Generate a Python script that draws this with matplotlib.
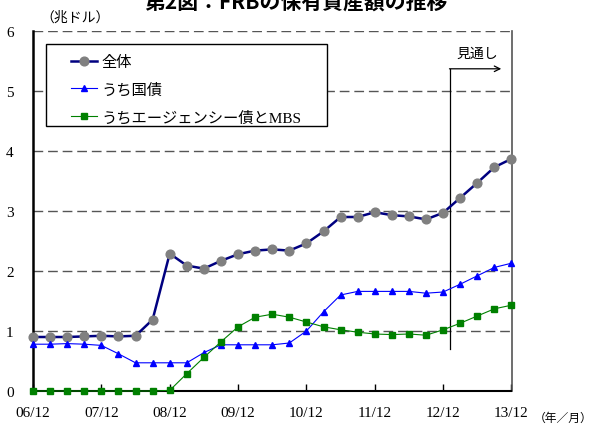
import matplotlib
matplotlib.use("Agg")
import matplotlib.pyplot as plt
from matplotlib.patches import Rectangle

# quarterly, 2006/12 .. 2013/12 (13/03 onward = projection)
quarters = ["06/12", "07/03", "07/06", "07/09", "07/12", "08/03", "08/06", "08/09",
            "08/12", "09/03", "09/06", "09/09", "09/12", "10/03", "10/06", "10/09",
            "10/12", "11/03", "11/06", "11/09", "11/12", "12/03", "12/06", "12/09",
            "12/12", "13/03", "13/06", "13/09", "13/12"]
total = [0.90, 0.90, 0.90, 0.91, 0.92, 0.91, 0.92, 1.19, 2.29, 2.09, 2.04, 2.17,
         2.28, 2.34, 2.36, 2.34, 2.46, 2.66, 2.90, 2.90, 2.98, 2.93, 2.91, 2.86,
         2.97, 3.22, 3.47, 3.73, 3.87]
treasury = [0.78, 0.78, 0.79, 0.78, 0.76, 0.62, 0.47, 0.47, 0.47, 0.47, 0.64, 0.77,
            0.77, 0.77, 0.77, 0.80, 1.00, 1.32, 1.60, 1.66, 1.66, 1.66, 1.66, 1.63,
            1.65, 1.78, 1.92, 2.06, 2.13]
agency_mbs = [0.0, 0.0, 0.0, 0.0, 0.0, 0.0, 0.0, 0.0, 0.01, 0.29, 0.56, 0.82,
              1.07, 1.23, 1.28, 1.23, 1.15, 1.07, 1.02, 0.98, 0.95, 0.94, 0.95, 0.93,
              1.02, 1.13, 1.25, 1.37, 1.43]
labels = ["全体", "うち国債", "うちエージェンシー債とMBS"]
yticks = [0, 1, 2, 3, 4, 5, 6]

serif = ["Liberation Serif", "Noto Sans CJK JP"]
jp = ["Noto Sans CJK JP", "DejaVu Sans"]

fig = plt.figure(figsize=(5.91, 4.27), dpi=100)
ax = fig.add_axes([33 / 591, 35 / 427, 478.5 / 591, 360 / 427])

x = list(range(len(quarters)))
ax.plot(x, total, color="#000080", lw=1.8, marker="o", ms=6.3, mfc="#808080",
        mec="#808080", clip_on=False, zorder=5, label=labels[0])
ax.plot(x, treasury, color="#0000ff", lw=0.8, marker="^", ms=5, mfc="#0000ff",
        mec="#0000ff", clip_on=False, zorder=5, label=labels[1])
ax.plot(x, agency_mbs, color="#008000", lw=0.8, marker="s", ms=4.5, mfc="#008000",
        mec="#008000", clip_on=False, zorder=5, label=labels[2])

ax.set_xlim(0, len(quarters) - 1)
ax.set_ylim(0, 6)
ax.set_yticks(yticks)
ax.set_yticklabels([str(v) for v in yticks], family=serif, fontsize=11)
ax.set_xticks(x[::4])
ax.set_xticklabels(quarters[::4], family=serif, fontsize=11)
ax.tick_params(axis="y", length=0, pad=14)
ax.tick_params(axis="x", direction="in", length=5, width=1, pad=11)

for yv in yticks[1:]:
    ax.axhline(yv, color="#555555", lw=1.0, dashes=(7, 3.5), zorder=1)

ax.spines["top"].set_visible(False)
ax.spines["left"].set_linewidth(1.8)
ax.spines["bottom"].set_linewidth(1.5)
ax.spines["right"].set_linewidth(1.2)
ax.spines["right"].set_color("#555555")

# projection marker
proj_x = 24.4
ax.plot([proj_x, proj_x], [0.7, 5.37], color="black", lw=0.9, zorder=3)
ax.annotate("", xy=(27.4, 5.37), xytext=(proj_x - 0.03, 5.37),
            arrowprops=dict(arrowstyle="->", lw=0.9, color="black",
                            shrinkA=0, shrinkB=0, mutation_scale=10))
ax.text(26.0, 5.63, "見通し", ha="center", va="center", fontsize=10, family=jp)

# legend box
box = Rectangle((0.027, 0.736), 0.587, 0.228, transform=ax.transAxes,
                facecolor="white", edgecolor="black", lw=1.0, zorder=6)
ax.add_patch(box)
leg = ax.legend(loc="upper left", bbox_to_anchor=(0.08, 0.932), frameon=False,
                prop=dict(family=serif, size=11), handlelength=1.7,
                handletextpad=0.25, labelspacing=0.85, borderaxespad=0,
                borderpad=0)
leg.set_zorder(7)

fig.text(296 / 591, 1 - 2 / 427, "第2図：FRBの保有資産額の推移", ha="center",
         va="center", fontsize=15, fontweight="bold", family=jp)
fig.text(40 / 591, 1 - 18 / 427, "（兆ドル）", ha="left", va="center",
         fontsize=10, family=jp)
fig.text(563 / 591, 1 - 418 / 427, "（年／月）", ha="center", va="center",
         fontsize=8.5, family=jp)

fig.savefig("out.png", dpi=100)
